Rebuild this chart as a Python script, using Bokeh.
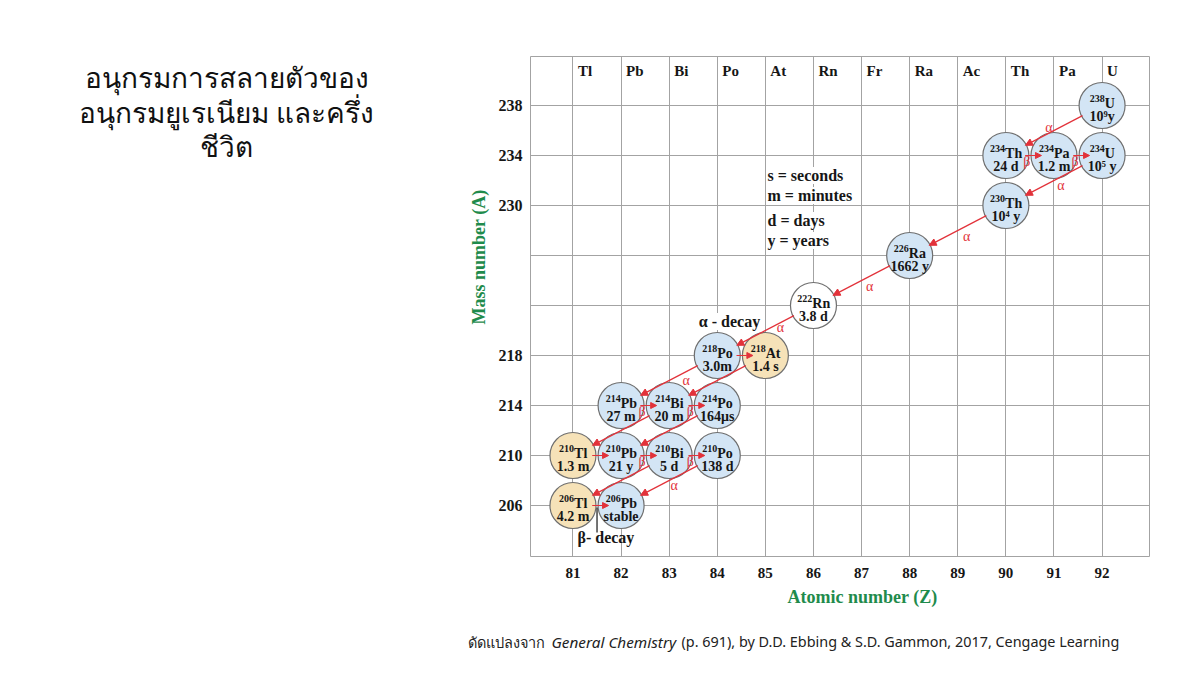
from bokeh.plotting import figure
from bokeh.layouts import row, column
from bokeh.models import Range1d, FixedTicker, Label, Arrow, NormalHead, ColumnDataSource, Title
from bokeh.core.properties import value
from bokeh.embed import file_html
from bokeh.resources import INLINE
import math

# ---------------- data ----------------
atomic_numbers = [81, 82, 83, 84, 85, 86, 87, 88, 89, 90, 91, 92]
element_symbols = ["Tl", "Pb", "Bi", "Po", "At", "Rn", "Fr", "Ra", "Ac", "Th", "Pa", "U"]
mass_tick_labels = [206, 210, 214, 218, 230, 234, 238]
mass_grid = [206, 210, 214, 218, 222, 226, 230, 234, 238]

nuclide_symbol = ["U", "Th", "Pa", "U", "Th", "Ra", "Rn", "Po", "At",
                  "Pb", "Bi", "Po", "Tl", "Pb", "Bi", "Po", "Tl", "Pb"]
nuclide_z = [92, 90, 91, 92, 90, 88, 86, 84, 85,
             82, 83, 84, 81, 82, 83, 84, 81, 82]
nuclide_a = [238, 234, 234, 234, 230, 226, 222, 218, 218,
             214, 214, 214, 210, 210, 210, 210, 206, 206]
nuclide_halflife = ["10⁹y", "24 d", "1.2 m", "10⁵ y", "10⁴ y", "1662 y", "3.8 d", "3.0m", "1.4 s",
                    "27 m", "20 m", "164μs", "1.3 m", "21 y", "5 d", "138 d", "4.2 m", "stable"]
nuclide_kind = ["main", "main", "main", "main", "main", "main", "gas", "main", "branch",
                "main", "main", "main", "branch", "main", "main", "main", "branch", "main"]

# alpha decays: parent (Z, A) -> (Z-2, A-4); whether an "α" label is printed
alpha_parent_z = [92, 92, 90, 88, 86, 84, 85, 83, 84, 83, 84]
alpha_parent_a = [238, 234, 230, 226, 222, 218, 218, 214, 214, 210, 210]
alpha_labeled = [True, True, True, True, True, True, False, False, False, False, True]

# beta decays: parent (Z, A) -> (Z+1, A); whether a "β" label is printed
beta_parent_z = [90, 91, 84, 82, 83, 81, 82, 83, 81]
beta_parent_a = [234, 234, 218, 214, 214, 210, 210, 210, 206]
beta_labeled = [True, True, False, True, True, False, True, True, False]

legend_lines = ["s = seconds", "m = minutes", "d = days", "y = years"]

title_lines = ["อนุกรมการสลายตัวของ", "อนุกรมยูเรเนียม และครึ่ง", "ชีวิต"]
caption_parts = ["ดัดแปลงจาก", "General Chemistry",
                 "(p. 691), by D.D. Ebbing & S.D. Gammon, 2017, Cengage Learning"]

# ---------------- layout geometry ----------------
LEFT_W = 460
MAIN_W, MAIN_H = 730, 620
CAP_H = 50
FRAME_L, FRAME_T, FRAME_W, FRAME_H = 530, 56, 619, 500      # page pixels
X0, X1 = 80.117, 92.986
Y0, Y1 = 201.92, 241.92
PX_Z = FRAME_W / (X1 - X0)
PX_A = FRAME_H / (Y1 - Y0)


def px_x(X):
    return X0 + (X - FRAME_L) / PX_Z


def px_y(Y):
    return Y1 - (Y - FRAME_T) / PX_A


SERIF_NAME = "Liberation Serif"
SERIF = value(SERIF_NAME)
RED = "#e2323a"
GREEN = "#1f8b4c"
GRID = "#a3a3a3"
INK = "#161616"

# Times-bold advance widths (em) for centring the split "mass + symbol" labels
EM = {"0": .5, "1": .5, "2": .5, "3": .5, "4": .5, "5": .5, "6": .5, "7": .5, "8": .5, "9": .5,
      "U": .722, "T": .667, "h": .556, "P": .611, "a": .5, "R": .722, "n": .556, "o": .5,
      "A": .722, "t": .333, "b": .556, "B": .667, "i": .278, "l": .278}


def width(s, size):
    return sum(EM.get(c, .5) for c in s) * size


BORDER_TOP = FRAME_T
BORDER_BOTTOM = MAIN_H - FRAME_T - FRAME_H

# ---------------- main chart ----------------
p = figure(width=MAIN_W, height=MAIN_H,
           x_range=Range1d(X0, X1), y_range=Range1d(Y0, Y1),
           output_backend="svg", toolbar_location=None,
           min_border_left=FRAME_L - LEFT_W, min_border_top=BORDER_TOP,
           min_border_right=MAIN_W - (FRAME_L - LEFT_W) - FRAME_W,
           min_border_bottom=BORDER_BOTTOM)
p.background_fill_color = "white"
p.border_fill_color = "white"
p.outline_line_color = GRID
p.outline_line_width = 1

for ax in (p.xaxis[0], p.yaxis[0]):
    ax.axis_line_color = None
    ax.major_tick_line_color = None
    ax.minor_tick_line_color = None
    ax.major_tick_in = 0
    ax.major_tick_out = 0
    ax.major_label_text_font = SERIF_NAME
    ax.major_label_text_font_style = "bold"
    ax.major_label_text_color = INK
p.xaxis[0].ticker = FixedTicker(ticks=atomic_numbers)
p.yaxis[0].ticker = FixedTicker(ticks=mass_tick_labels)
p.xaxis[0].major_label_text_font_size = "15px"
p.yaxis[0].major_label_text_font_size = "16px"
p.xaxis[0].major_label_standoff = 11
p.yaxis[0].major_label_standoff = 8

p.xgrid[0].ticker = FixedTicker(ticks=atomic_numbers)
p.ygrid[0].ticker = FixedTicker(ticks=mass_grid)
for g in (p.xgrid[0], p.ygrid[0]):
    g.grid_line_color = GRID
    g.grid_line_width = 1

# axis titles (off-centre, as in the source figure)
p.add_layout(Title(text="Atomic number (Z)", align="left", offset=257, standoff=8,
                   text_font=SERIF_NAME, text_font_style="bold", text_font_size="18px",
                   text_color=GREEN), "below")
p.add_layout(Title(text="Mass number (A)", align="left", offset=232, standoff=13,
                   text_font=SERIF_NAME, text_font_style="bold", text_font_size="18px",
                   text_color=GREEN), "left")

# header row of element symbols
p.text(x=atomic_numbers, y=[px_y(70)] * len(atomic_numbers), text=element_symbols,
       x_offset=5, text_align="left", text_baseline="middle",
       text_font=SERIF, text_font_style="bold", text_font_size="15px", text_color=INK)

# legend text and callouts (white backing)
legend_y = [175, 195, 220, 240]
for t, yy in zip(legend_lines, legend_y):
    p.add_layout(Label(x=px_x(767), y=px_y(yy), text=t, text_align="left", text_baseline="middle",
                       text_font=SERIF_NAME, text_font_style="bold", text_font_size="16px",
                       text_color=INK, background_fill_color="white"))

p.add_layout(Label(x=px_x(729), y=px_y(321), text="α - decay", text_align="center",
                   text_baseline="middle", text_font=SERIF_NAME, text_font_style="bold",
                   text_font_size="16px", text_color=INK, background_fill_color="white"))

# nuclide circles
fill_map = {"main": "#d3e5f5", "branch": "#f6e2b8", "gas": "#ffffff"}
MASS_SZ, SYM_SZ = 10, 14
split = []
for a, s in zip(nuclide_a, nuclide_symbol):
    wm = width(str(a), MASS_SZ) + 0.5
    ws = width(s, SYM_SZ)
    split.append(wm - (wm + ws) / 2)
src = ColumnDataSource(dict(
    x=nuclide_z, y=nuclide_a,
    mass=[str(a) for a in nuclide_a],
    sym=nuclide_symbol,
    split=split,
    bottom=nuclide_halflife,
    fill=[fill_map[k] for k in nuclide_kind],
))
p.scatter(x="x", y="y", source=src, marker="circle", size=46,
          fill_color="fill", line_color="#6f6f6f", line_width=1.2)
p.text(x="x", y="y", text="mass", source=src, x_offset="split", y_offset=-7.5,
       text_align="right", text_baseline="alphabetic",
       text_font=SERIF, text_font_style="bold", text_font_size=f"{MASS_SZ}px", text_color=INK)
p.text(x="x", y="y", text="sym", source=src, x_offset="split", y_offset=-2.5,
       text_align="left", text_baseline="alphabetic",
       text_font=SERIF, text_font_style="bold", text_font_size=f"{SYM_SZ}px", text_color=INK)
p.text(x="x", y="y", text="bottom", source=src, y_offset=11, text_align="center",
       text_baseline="alphabetic",
       text_font=SERIF, text_font_style="bold", text_font_size="14px", text_color=INK)

# alpha arrows (edge to edge of circles)
R = 22.0
ax0, ay0, ax1, ay1, lx, ly = [], [], [], [], [], []
for z, a, lab in zip(alpha_parent_z, alpha_parent_a, alpha_labeled):
    dz, da = -2, -4
    L = math.hypot(dz * PX_Z, da * PX_A)
    f = R / L
    ax0.append(z + dz * f); ay0.append(a + da * f)
    ax1.append(z + dz * (1 - f)); ay1.append(a + da * (1 - f))
    if lab:
        lx.append(z + dz / 2); ly.append(a + da / 2)
asrc = ColumnDataSource(dict(x0=ax0, y0=ay0, x1=ax1, y1=ay1))
p.add_layout(Arrow(x_start="x0", y_start="y0", x_end="x1", y_end="y1", source=asrc,
                   line_color=RED, line_width=1.2,
                   end=NormalHead(size=7, fill_color=RED, line_color=RED, line_width=1)))
alpha_dx = [-5, 7, 9, 8, 15, 17, 5]
alpha_dy = [-3, 5, 6, 6, -3, 0, 5]
p.text(x=lx, y=ly, text=["α"] * len(lx), x_offset=alpha_dx, y_offset=alpha_dy,
       text_align="center", text_baseline="middle", text_font=SERIF,
       text_font_size="14px", text_color=RED)

# beta arrows
bx0, bx1, by, blx, bly = [], [], [], [], []
for z, a, lab in zip(beta_parent_z, beta_parent_a, beta_labeled):
    bx0.append(z + 0.40); bx1.append(z + 0.74); by.append(a)
    if lab:
        blx.append(z + 0.5); bly.append(a)
bsrc = ColumnDataSource(dict(x0=bx0, x1=bx1, y=by))
p.add_layout(Arrow(x_start="x0", y_start="y", x_end="x1", y_end="y", source=bsrc,
                   line_color=RED, line_width=1.2,
                   end=NormalHead(size=6, fill_color=RED, line_color=RED, line_width=1)))
p.text(x=blx, y=bly, text=["β"] * len(blx), x_offset=-3, y_offset=6,
       text_align="center", text_baseline="middle", text_font=SERIF,
       text_font_size="14px", text_color=RED)

# beta-decay callout
tl_z, tl_a = nuclide_z[16], nuclide_a[16]
pb_z = nuclide_z[17]
mid_z = (tl_z + pb_z) / 2
p.segment(x0=[mid_z], y0=[tl_a - 0.15], x1=[mid_z], y1=[px_y(532)], line_color=INK, line_width=1.2)
p.add_layout(Label(x=px_x(577), y=px_y(537), text="β- decay", text_align="left", text_baseline="middle",
                   text_font=SERIF_NAME, text_font_style="bold", text_font_size="16px",
                   text_color=INK))


# ---------------- helper canvases for slide text ----------------
def blank(w, h, y_top, y_bottom, b_top, b_bottom):
    f = figure(width=w, height=h, x_range=Range1d(0, w), y_range=Range1d(y_bottom, y_top),
               output_backend="svg", toolbar_location=None,
               min_border_left=0, min_border_right=0,
               min_border_top=b_top, min_border_bottom=b_bottom)
    f.axis.visible = False
    f.grid.visible = False
    f.outline_line_color = None
    f.background_fill_color = "white"
    f.border_fill_color = "white"
    return f


# slide title (left); its frame lines up with the chart frame, y in page pixels
tfig = blank(LEFT_W, MAIN_H, FRAME_T, FRAME_T + FRAME_H, BORDER_TOP, BORDER_BOTTOM)
tfig.text(x=[226, 226, 226], y=[76, 111, 145], text=title_lines,
          text_align="center", text_baseline="middle",
          text_font=value("Noto Sans"), text_font_size="28px", text_color="#111111")

# caption (bottom)
cfig = blank(LEFT_W + MAIN_W, CAP_H, MAIN_H, MAIN_H + CAP_H, 0, 0)
cfig.text(x=[467], y=[641], text=[caption_parts[0]], text_align="left", text_baseline="middle",
          text_font=value("Noto Sans"), text_font_size="14.5px", text_color="#222222")
cfig.text(x=[551], y=[641], text=[caption_parts[1]], text_align="left", text_baseline="middle",
          text_font=value("Noto Sans"), text_font_style="italic", text_font_size="15.3px",
          text_color="#222222")
cfig.text(x=[681], y=[641], text=[caption_parts[2]], text_align="left", text_baseline="middle",
          text_font=value("Noto Sans"), text_font_size="14.4px", text_color="#222222")

layout = column(row(tfig, p), cfig)
open("out.html", "w").write(file_html(layout, INLINE))
